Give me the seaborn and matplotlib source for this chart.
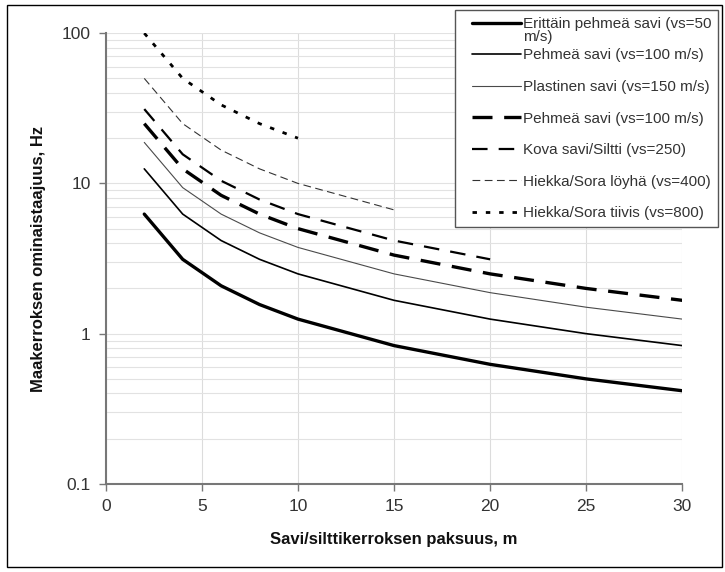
import matplotlib
matplotlib.use("Agg")
import matplotlib.pyplot as plt
import matplotlib.ticker as mticker
from matplotlib.patches import Rectangle
from matplotlib.lines import Line2D
from matplotlib.legend_handler import HandlerLine2D
import seaborn as sns

sns.set_theme(style="white")
plt.rcParams["font.family"] = ["Liberation Sans", "DejaVu Sans"]

# Layer thickness, m
thickness = [2, 4, 6, 8, 10, 15, 20, 25, 30]

# Natural frequency f = vs / (4H), Hz
f_vs50 = [6.25, 3.125, 2.083, 1.5625, 1.25, 0.833, 0.625, 0.5, 0.417]
f_vs100 = [12.5, 6.25, 4.167, 3.125, 2.5, 1.667, 1.25, 1.0, 0.833]
f_vs150 = [18.75, 9.375, 6.25, 4.6875, 3.75, 2.5, 1.875, 1.5, 1.25]
f_vs200 = [25.0, 12.5, 8.333, 6.25, 5.0, 3.333, 2.5, 2.0, 1.667]
f_vs250 = [31.25, 15.625, 10.417, 7.8125, 6.25, 4.167, 3.125]
f_vs400 = [50.0, 25.0, 16.667, 12.5, 10.0, 6.667]
f_vs800 = [100.0, 50.0, 33.333, 25.0, 20.0]

labels = [
    "Erittäin pehmeä savi (vs=50",
    "Pehmeä savi (vs=100 m/s)",
    "Plastinen savi (vs=150 m/s)",
    "Pehmeä savi (vs=100 m/s)",
    "Kova savi/Siltti (vs=250)",
    "Hiekka/Sora löyhä (vs=400)",
    "Hiekka/Sora tiivis (vs=800)",
]
label_wrap = "m/s)"  # second line of the first legend label
x_ticks = [0, 5, 10, 15, 20, 25, 30]
y_ticks = [0.1, 1, 10, 100]
y_tick_labels = ["0.1", "1", "10", "100"]

series = [
    (f_vs50, dict(color="black", lw=2.4, ls="-")),
    (f_vs100, dict(color="black", lw=1.2, ls="-")),
    (f_vs150, dict(color="#4a4a4a", lw=0.8, ls="-")),
    (f_vs200, dict(color="black", lw=2.4, ls=(0, (6, 3.5)))),
    (f_vs250, dict(color="black", lw=1.6, ls=(0, (7, 5)))),
    (f_vs400, dict(color="#333333", lw=0.8, ls=(0, (7, 4)))),
    (f_vs800, dict(color="black", lw=2.0, ls=(0, (1.6, 3.2)))),
]


class IndentedLine(HandlerLine2D):
    """Legend line sample that starts a little in from the frame."""

    def __init__(self, lead=0.68, **kw):
        super().__init__(**kw)
        self.lead = lead

    def get_xdata(self, legend, xdescent, ydescent, width, height, fontsize):
        x0 = -xdescent + self.lead * fontsize
        x1 = -xdescent + width
        return [x0, x1], [0.5 * (x0 + x1)]


fig = plt.figure(figsize=(7.25, 5.72), dpi=100)
ax = fig.add_axes([0.146, 0.154, 0.795, 0.788])

for (vals, st), lab in zip(series, labels):
    sns.lineplot(x=thickness[:len(vals)], y=vals, ax=ax, label=lab,
                 color=st["color"], linewidth=st["lw"], linestyle=st["ls"],
                 estimator=None, sort=False)

ax.set_yscale("log")
ax.set_xlim(0, 30)
ax.set_ylim(0.1, 100)
ax.set_xticks(x_ticks)
ax.set_yticks(y_ticks)
ax.yaxis.set_major_formatter(mticker.FixedFormatter(y_tick_labels))
ax.yaxis.set_minor_locator(mticker.LogLocator(base=10, subs=range(2, 10)))
ax.yaxis.set_minor_formatter(mticker.NullFormatter())

ax.grid(True, axis="x", which="major", color="#dcdcdc", lw=0.8)
ax.grid(True, axis="y", which="both", color="#e2e2e2", lw=0.8)
ax.set_axisbelow(True)

for side in ["top", "right"]:
    ax.spines[side].set_visible(False)
for side in ["left", "bottom"]:
    ax.spines[side].set_color("#777777")
    ax.spines[side].set_linewidth(1.5)

ax.tick_params(axis="both", which="major", direction="out", length=5, width=1,
               color="#777777", labelsize=12.5, labelcolor="#333333", pad=6,
               left=True, bottom=True)
ax.tick_params(axis="y", which="minor", length=0)

ax.set_xlabel("Savi/silttikerroksen paksuus, m", fontsize=12, fontweight="bold",
              color="#111111", labelpad=13)
ax.set_ylabel("Maakerroksen ominaistaajuus, Hz", fontsize=12, fontweight="bold",
              color="#111111", labelpad=11)

handles, _ = ax.get_legend_handles_labels()
leg = ax.legend(handles, labels, loc="upper left",
                bbox_to_anchor=(455 / 725, 1 - 241 / 572, 263 / 725, 231 / 572),
                bbox_transform=fig.transFigure, mode="expand",
                fontsize=11, frameon=True, fancybox=False, handlelength=3.9,
                handletextpad=0.12, labelspacing=1.15, borderaxespad=0,
                borderpad=0.45, framealpha=1,
                handler_map={Line2D: IndentedLine(lead=0.68)})
leg.get_frame().set_edgecolor("#555555")
leg.get_frame().set_linewidth(1.0)
for t in leg.get_texts():
    t.set_color("#333333")

# Wrapped tail of the first legend label, tucked under its first line
ax.annotate(label_wrap, xy=(0, 0), xycoords=leg.get_texts()[0],
            xytext=(0, 0.5), textcoords="offset points", ha="left", va="top",
            fontsize=11, color="#333333", zorder=10)

# Outer frame around the whole figure
fig.patches.append(Rectangle((7 / 725, 5 / 572), 715 / 725, 562 / 572,
                             transform=fig.transFigure, fill=False,
                             edgecolor="black", lw=1.0))

fig.savefig("out.png", dpi=100)
